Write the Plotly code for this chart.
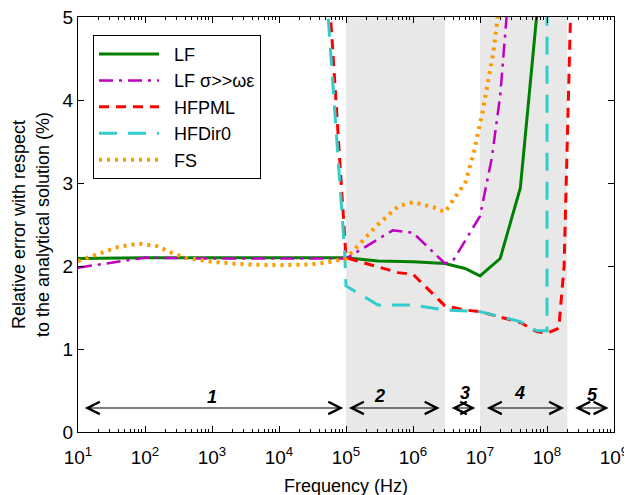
import numpy as np
import plotly.graph_objects as go

# ---- data (frequency in Hz, relative error in %) ----
lf_f = [1e1, 1e2, 1e3, 1e4, 1e5, 3e5, 1e6, 3e6, 6e6, 1e7, 2e7, 4e7, 8e7]
lf_e = [2.09, 2.10, 2.10, 2.10, 2.10, 2.06, 2.05, 2.03, 1.97, 1.88, 2.09, 2.94, 5.5]

lfs_f = [1e1, 1e2, 1e3, 1e4, 1e5, 5e5, 1e6, 3e6, 4e6, 1e7, 1.5e7, 2e7, 3e7]
lfs_e = [1.98, 2.10, 2.09, 2.09, 2.09, 2.43, 2.40, 2.03, 2.07, 2.60, 3.30, 4.05, 5.8]

pml_f = [1e1, 1e2, 1e3, 1e4, 5e4, 1e5, 3e5, 6e5, 1e6, 3e6, 6e6, 1e7, 4e7, 7e7, 1e8, 1.5e8, 1.8e8, 2.5e8]
pml_e = [14, 13, 12, 10, 5.9, 2.10, 1.99, 1.92, 1.90, 1.52, 1.47, 1.45, 1.32, 1.21, 1.19, 1.25, 2.0, 6.5]

dir_f = [1e1, 1e2, 1e3, 1e4, 5e4, 9.5e4, 1e5, 3e5, 1e6, 3e6, 1e7, 4e7, 7e7, 1e8, 1.01e8]
dir_e = [14, 13, 12, 10, 5.4, 2.2, 1.76, 1.53, 1.53, 1.47, 1.45, 1.33, 1.22, 1.22, 40]

fs_f = [10, 20, 40, 80, 150, 250, 400, 1e3, 3e3, 1e4, 3e4, 5e4, 1e5, 2e5, 3e5, 6e5,
        1e6, 2e6, 3e6, 4e6, 6e6, 8e6, 1.1e7, 1.6e7, 2e7]
fs_e = [2.06, 2.15, 2.23, 2.27, 2.24, 2.16, 2.10, 2.05, 2.02, 2.01, 2.02, 2.04, 2.09, 2.35, 2.50, 2.72,
        2.77, 2.71, 2.65, 2.80, 3.00, 3.35, 3.87, 4.60, 5.25]

# shaded frequency bands
band_start = [1e5, 1e7]
band_end = [3e6, 2e8]

# region arrows (labels 1..5)
region_labels = ["1", "2", "3", "4", "5"]
arrow_start = [12, 1.05e5, 3.6e6, 1.2e7, 2.5e8]
arrow_end = [9.1e4, 2.5e6, 8.5e6, 1.8e8, 8.3e8]
label_f = [1e3, 3.2e5, 5.9e6, 3.9e7, 4.8e8]
label_y = [0.42, 0.43, 0.47, 0.47, 0.44]
arrow_y = 0.29

decades = list(range(1, 10))
tick_text = [f"10<sup>{k}</sup>" for k in decades]
minor_vals = [m * 10 ** k for k in range(1, 9) for m in range(2, 10)]

pad = "\u00a0\u00a0"

fig = go.Figure()

fig.add_trace(go.Scatter(x=lf_f, y=lf_e, mode="lines", name=pad + "LF",
                         line=dict(color="#008000", width=3)))
fig.add_trace(go.Scatter(x=lfs_f, y=lfs_e, mode="lines", name=pad + "LF σ>>ωε",
                         line=dict(color="#bf00bf", width=2.5, dash="14px,6px,3px,6px")))
fig.add_trace(go.Scatter(x=pml_f, y=pml_e, mode="lines", name=pad + "HFPML",
                         line=dict(color="#ff0000", width=3, dash="10px,7px")))
fig.add_trace(go.Scatter(x=dir_f, y=dir_e, mode="lines", name=pad + "HFDir0",
                         line=dict(color="#33cccc", width=3, dash="18px,11px")))
fig.add_trace(go.Scatter(x=fs_f, y=fs_e, mode="lines", name=pad + "FS",
                         line=dict(color="#ff9900", width=4, dash="3px,5px")))

shapes = []
for a, b in zip(band_start, band_end):
    shapes.append(dict(type="rect", xref="x", yref="y", x0=a, x1=b, y0=0, y1=5,
                       fillcolor="#e8e8e8", line=dict(width=0), layer="below"))

annotations = []
for s, e in zip(arrow_start, arrow_end):
    annotations.append(dict(x=np.log10(e), y=arrow_y, ax=np.log10(s), ay=arrow_y,
                            xref="x", yref="y", axref="x", ayref="y", text="",
                            showarrow=True, arrowhead=5, startarrowhead=5,
                            arrowside="end+start", arrowwidth=1.1, arrowsize=2.2,
                            startarrowsize=2.2, arrowcolor="black"))
for lab, f, yv in zip(region_labels, label_f, label_y):
    annotations.append(dict(x=np.log10(f), y=yv, xref="x", yref="y",
                            text=f"<b><i>{lab}</i></b>", showarrow=False,
                            font=dict(size=18, color="black")))

fig.update_layout(
    width=632, height=495,
    margin=dict(l=70, r=26, t=9, b=71),
    paper_bgcolor="white", plot_bgcolor="white",
    font=dict(family="Liberation Sans, Arial, sans-serif", size=18, color="black"),
    shapes=shapes, annotations=annotations,
    xaxis=dict(type="log", range=[1, 9], tickmode="array", automargin=False,
               tickvals=[10 ** k for k in decades], ticktext=tick_text,
               ticks="inside", ticklen=6, tickcolor="black", ticklabeloverflow="allow",
               ticklabelstandoff=8,
               showline=True, linecolor="black", linewidth=1, mirror="allticks",
               showgrid=False, zeroline=False, tickfont=dict(size=19),
               title=dict(text="Frequency (Hz)", font=dict(size=18), standoff=12),
               minor=dict(tickmode="array", tickvals=minor_vals, ticks="inside",
                          ticklen=3, tickcolor="black", showgrid=False)),
    yaxis=dict(range=[0, 5], tickmode="array", tickvals=[0, 1, 2, 3, 4, 5], automargin=False,
               ticks="inside", ticklen=6, tickcolor="black", ticklabeloverflow="allow",
               showline=True, linecolor="black", linewidth=1, mirror="allticks",
               showgrid=False, zeroline=False, tickfont=dict(size=19),
               title=dict(text="Relative error with respect<br>to the analytical solution (%)",
                          font=dict(size=18), standoff=8)),
    legend=dict(x=0.028, y=0.957, xanchor="left", yanchor="top",
                bordercolor="black", borderwidth=1, bgcolor="white",
                font=dict(size=18), itemwidth=60, entrywidth=180, entrywidthmode="pixels"),
)

fig.write_html("out.html")
